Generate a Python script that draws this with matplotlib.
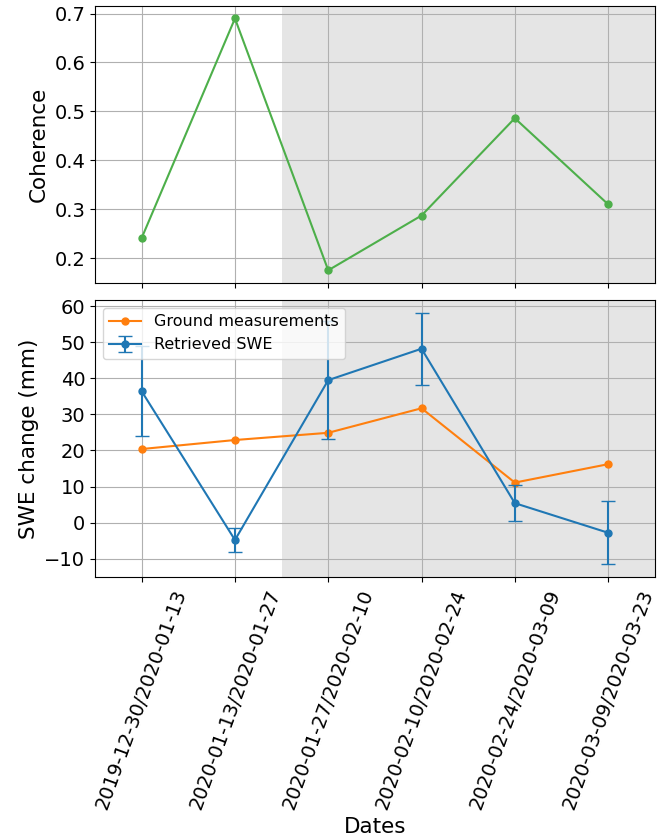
import matplotlib
matplotlib.use("Agg")
import matplotlib.pyplot as plt
from matplotlib.ticker import MultipleLocator
import numpy as np

date_labels = ["2019-12-30/2020-01-13", "2020-01-13/2020-01-27", "2020-01-27/2020-02-10",
               "2020-02-10/2020-02-24", "2020-02-24/2020-03-09", "2020-03-09/2020-03-23"]
coherence = [0.241, 0.690, 0.175, 0.287, 0.486, 0.310]
ground = [20.4, 22.9, 24.9, 31.7, 11.1, 16.2]
retrieved = [36.4, -4.8, 39.5, 48.2, 5.4, -2.8]
retrieved_err = [12.5, 3.3, 16.3, 10.0, 5.0, 8.8]

x = np.arange(len(date_labels))
FS = 14
LFS = 15.5

fig, (ax1, ax2) = plt.subplots(2, 1, figsize=(6.6, 8.4), dpi=100, sharex=True)
fig.subplots_adjust(left=0.144, right=0.992, top=0.993, bottom=0.313, hspace=0.062)

for ax in (ax1, ax2):
    ax.axvspan(1.5, 5.5, color="gray", alpha=0.2, lw=0)
    ax.grid(True)
    ax.set_xlim(-0.5, 5.5)
    ax.tick_params(labelsize=FS)

ax1.plot(x, coherence, "-o", color="#4daf4a", markersize=5, lw=1.5)
ax1.set_ylabel("Coherence", fontsize=LFS)

ax2.plot(x, ground, "-o", color="tab:orange", markersize=5, lw=1.5, label="Ground measurements")
ax2.errorbar(x, retrieved, yerr=retrieved_err, fmt="-o", color="tab:blue", markersize=5,
             lw=1.5, capsize=5, label="Retrieved SWE")
ax2.yaxis.set_major_locator(MultipleLocator(10))
ax2.set_ylabel("SWE change (mm)", fontsize=LFS)
ax2.set_xlabel("Dates", fontsize=LFS)
ax2.set_xticks(x)
ax2.set_xticklabels(date_labels, rotation=70, fontsize=FS)
ax2.legend(loc="upper left", fontsize=11.5)

fig.savefig("out.png", dpi=100)
